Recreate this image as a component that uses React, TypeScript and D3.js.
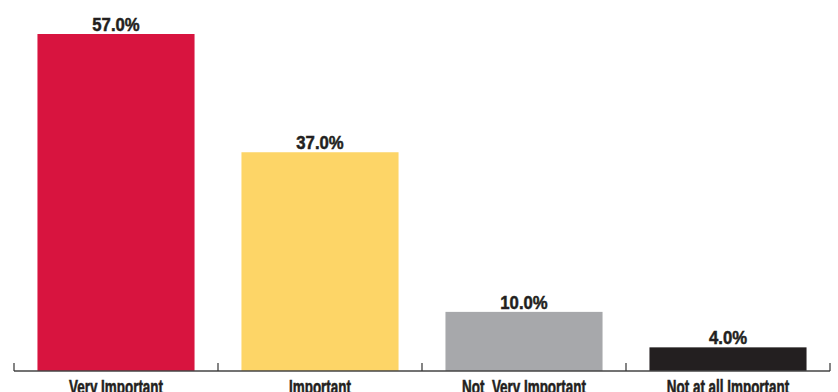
import React from "react";
import * as d3 from "d3";

const categories = ["Very Important", "Important", "Not  Very Important", "Not at all Important"];
const values = [57.0, 37.0, 10.0, 4.0];
const colors = ["#D8143F", "#FDD567", "#A7A8AB", "#231F20"];

const W = 838;
const H = 392;
const FONT = "'Liberation Sans', Arial, Helvetica, sans-serif";

export default function App() {
  const x = d3
    .scaleBand<string>()
    .domain(categories)
    .range([14, 830])
    .paddingInner(0.23)
    .paddingOuter(0.115);
  const y = d3.scaleLinear().domain([0, 57]).range([371, 34]);
  const step = x.step();
  const [r0] = x.range();
  const ticks = d3.range(categories.length + 1).map((i) => r0 + i * step);
  const baseY = y(0);

  return (
    <svg
      width={W}
      height={H}
      style={{ position: "absolute", left: 0, top: 0, display: "block", background: "#fff" }}
    >
      {categories.map((c, i) => (
        <rect
          key={c}
          x={x(c)}
          y={y(values[i])}
          width={x.bandwidth()}
          height={baseY - y(values[i])}
          fill={colors[i]}
        />
      ))}
      {categories.map((c, i) => {
        const cx = (x(c) as number) + x.bandwidth() / 2;
        return (
          <text
            key={"v" + c}
            transform={`translate(${cx},${y(values[i]) - 3}) scale(0.88,1)`}
            textAnchor="middle"
            fontFamily={FONT}
            fontWeight="bold"
            fontSize={19}
            fill="#231F20"
            stroke="#231F20"
            strokeWidth={0.5}
          >
            {values[i].toFixed(1) + "%"}
          </text>
        );
      })}
      <line x1={ticks[0]} x2={ticks[ticks.length - 1]} y1={baseY} y2={baseY} stroke="#444" strokeWidth={1.5} />
      {ticks.map((t, i) => (
        <line key={"t" + i} x1={t} x2={t} y1={baseY} y2={baseY - 8} stroke="#333" strokeWidth={1.2} />
      ))}
      {categories.map((c) => {
        const cx = (x(c) as number) + x.bandwidth() / 2;
        return (
          <text
            key={"c" + c}
            transform={`translate(${cx},${394}) scale(0.64,1)`}
            textAnchor="middle"
            fontFamily={FONT}
            fontWeight="bold"
            fontSize={21}
            fill="#231F20"
            stroke="#231F20"
            strokeWidth={0.6}
            style={{ whiteSpace: "pre" }}
          >
            {c}
          </text>
        );
      })}
    </svg>
  );
}
